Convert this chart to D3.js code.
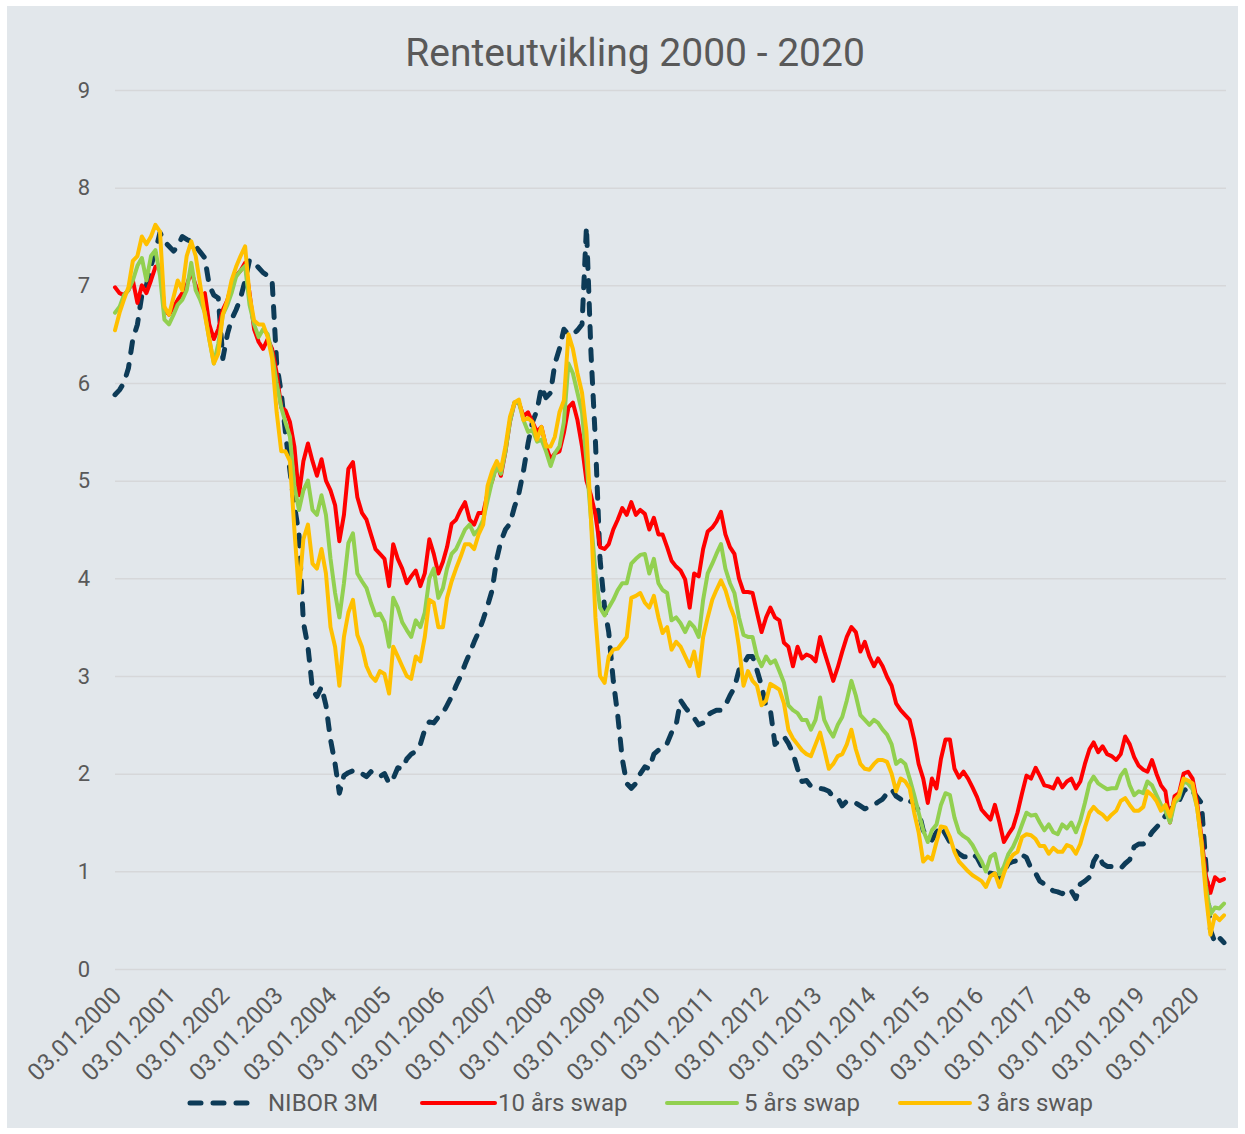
<!DOCTYPE html>
<html>
<head>
<meta charset="utf-8">
<script src="https://cdn.jsdelivr.net/npm/d3@7"></script>
<style>
  body { margin: 0; background: #ffffff; }
  text { font-family: Roboto, "Noto Sans", sans-serif; fill: #595959; }
</style>
</head>
<body>
<div id="chart"></div>
<script>
const chartTitle = "Renteutvikling 2000 - 2020";
const seriesNames = ["NIBOR 3M", "10 års swap", "5 års swap", "3 års swap"];
const firstMonth = "2000-01-01"; // one value per month from here
const tickLabels = ["03.01.2000", "03.01.2001", "03.01.2002", "03.01.2003", "03.01.2004",
  "03.01.2005", "03.01.2006", "03.01.2007", "03.01.2008", "03.01.2009", "03.01.2010",
  "03.01.2011", "03.01.2012", "03.01.2013", "03.01.2014", "03.01.2015", "03.01.2016",
  "03.01.2017", "03.01.2018", "03.01.2019", "03.01.2020"];
const yTicks = [0, 1, 2, 3, 4, 5, 6, 7, 8, 9];

// monthly values, one row per year
const nibor3m = [
  5.88, 5.93, 6.0, 6.15, 6.45, 6.6, 6.9, 7.0, 7.2, 7.35, 7.54, 7.45,
  7.4, 7.35, 7.4, 7.5, 7.47, 7.45, 7.4, 7.34, 7.28, 7.0, 6.9, 6.87,
  6.25, 6.5, 6.65, 6.75, 6.87, 7.05, 7.26, 7.23, 7.18, 7.13, 7.1, 7.05,
  6.2, 5.9, 5.5, 5.1, 4.75, 4.45, 3.55, 3.3, 2.86, 2.79, 2.89, 2.7,
  2.35, 2.1, 1.8, 1.98, 2.01, 2.03, 2.03, 2.0, 1.97, 2.02, 1.98, 1.97,
  2.0, 1.9, 1.95, 2.06, 2.05, 2.15, 2.2, 2.23, 2.3, 2.45, 2.53, 2.52,
  2.58, 2.62, 2.7, 2.79, 2.9, 3.0, 3.12, 3.23, 3.35, 3.45, 3.58, 3.72,
  3.88, 4.2, 4.38, 4.5, 4.56, 4.73, 4.87, 5.1, 5.38, 5.6, 5.72, 5.96,
  5.85, 5.9, 6.2, 6.35, 6.55, 6.5, 6.5, 6.54, 6.6, 7.6, 6.3, 5.4,
  4.2, 3.7, 3.45, 2.95, 2.6, 2.15, 1.9, 1.85, 1.9, 2.0, 2.07, 2.05,
  2.2, 2.24, 2.26, 2.31, 2.42, 2.5, 2.75, 2.68, 2.62, 2.57, 2.5, 2.52,
  2.6, 2.63, 2.65, 2.65, 2.7, 2.8, 2.88, 3.06, 3.12, 3.2, 3.2, 3.06,
  2.9, 2.68, 2.65, 2.3, 2.34, 2.38, 2.31, 2.21, 2.05, 1.92, 1.93, 1.87,
  1.86, 1.85, 1.84, 1.82, 1.76, 1.75, 1.67, 1.72, 1.71, 1.7, 1.67, 1.64,
  1.66, 1.68, 1.71, 1.74, 1.8, 1.84, 1.77, 1.74, 1.76, 1.72, 1.7, 1.62,
  1.42, 1.34, 1.32, 1.4, 1.46, 1.38, 1.3, 1.22, 1.18, 1.15, 1.15, 1.18,
  1.14, 1.05, 1.01, 0.98, 0.97, 0.94, 1.0, 1.08, 1.1, 1.11, 1.17, 1.14,
  1.03, 0.98, 0.9, 0.87, 0.83, 0.8, 0.79, 0.77, 0.82, 0.8, 0.72, 0.87,
  0.9, 0.94, 1.1, 1.18, 1.08, 1.05, 1.05, 1.04, 1.03, 1.08, 1.12, 1.25,
  1.28, 1.28, 1.32, 1.4, 1.45, 1.5, 1.57, 1.63, 1.68, 1.72, 1.82, 1.86,
  1.82, 1.76, 1.7, 1.05, 0.4, 0.27, 0.32, 0.27
];

const swap10 = [
  6.98, 6.92, 6.9, 6.95, 7.05, 6.82, 7.0, 6.92, 7.05, 7.19, 7.2, 6.75,
  6.7, 6.78, 6.85, 6.92, 7.0, 7.14, 7.0, 6.88, 6.92, 6.6, 6.45, 6.55,
  6.75, 6.85, 7.0, 7.1, 7.15, 7.23, 6.92, 6.55, 6.42, 6.35, 6.45, 6.35,
  6.1, 5.75, 5.72, 5.6, 5.35, 4.85, 5.2, 5.38, 5.2, 5.05, 5.22, 5.0,
  4.9, 4.75, 4.38, 4.65, 5.12, 5.19, 4.83, 4.67, 4.6, 4.45, 4.3, 4.25,
  4.2, 3.92, 4.35, 4.2, 4.1, 3.95, 4.02, 4.08, 3.92, 4.05, 4.4, 4.25,
  4.05, 4.17, 4.32, 4.56, 4.6, 4.7, 4.78, 4.6, 4.55, 4.67, 4.67, 4.87,
  5.0, 5.18, 5.05, 5.3, 5.6, 5.8, 5.8, 5.66, 5.7, 5.6, 5.5, 5.55,
  5.35, 5.22, 5.28, 5.3, 5.49, 5.75, 5.8, 5.62, 5.35, 5.0, 4.85, 4.65,
  4.32, 4.3, 4.35, 4.5, 4.6, 4.72, 4.65, 4.78, 4.65, 4.7, 4.66, 4.5,
  4.62, 4.45, 4.45, 4.32, 4.18, 4.12, 4.08, 3.99, 3.7, 4.05, 4.02, 4.3,
  4.48, 4.52, 4.58, 4.68, 4.45, 4.32, 4.25, 4.0, 3.86, 3.86, 3.85, 3.65,
  3.45, 3.6, 3.7, 3.6, 3.57, 3.34, 3.3, 3.1, 3.3, 3.18, 3.22, 3.2,
  3.15, 3.4, 3.25, 3.1, 2.95, 3.09, 3.25, 3.4, 3.5, 3.45, 3.25, 3.35,
  3.2, 3.1, 3.18, 3.1, 2.99, 2.9, 2.72, 2.65, 2.6, 2.55, 2.35, 2.1,
  1.95, 1.7, 1.95, 1.85, 2.15, 2.35, 2.35, 2.05, 1.96, 2.02, 1.95, 1.86,
  1.76, 1.63, 1.58, 1.53, 1.68, 1.5, 1.3, 1.38, 1.45, 1.6, 1.8, 1.98,
  1.95, 2.06, 1.98, 1.88, 1.87, 1.85, 1.95, 1.86, 1.92, 1.95, 1.85, 1.92,
  2.1, 2.25, 2.32, 2.22, 2.28, 2.2, 2.18, 2.14, 2.2, 2.38, 2.3, 2.17,
  2.08, 2.04, 2.02, 2.14, 2.0, 1.88, 1.82, 1.5, 1.77, 1.8, 2.0, 2.02,
  1.95, 1.7, 1.35, 0.95, 0.78, 0.94, 0.9, 0.92
];

const swap5 = [
  6.72, 6.78, 6.9, 6.95, 7.05, 7.2, 7.28, 7.05, 7.3, 7.36, 7.1, 6.65,
  6.6, 6.7, 6.8, 6.85, 6.95, 7.23, 6.95, 6.85, 6.72, 6.45, 6.2, 6.4,
  6.7, 6.8, 6.92, 7.09, 7.15, 7.2, 6.8, 6.6, 6.47, 6.55, 6.5, 6.3,
  6.0, 5.75, 5.6, 5.45, 4.95, 4.7, 4.9, 5.0, 4.7, 4.65, 4.85, 4.65,
  4.2, 3.85, 3.6, 3.95, 4.36, 4.46, 4.05, 3.97, 3.9, 3.75, 3.62, 3.64,
  3.55, 3.3, 3.8, 3.7, 3.55, 3.47, 3.4, 3.57, 3.5, 3.65, 4.0, 4.1,
  3.8, 3.9, 4.1, 4.25, 4.3, 4.4, 4.5, 4.55, 4.45, 4.5, 4.6, 4.8,
  5.0, 5.15, 5.07, 5.3, 5.6, 5.8, 5.8, 5.62, 5.5, 5.52, 5.4, 5.42,
  5.3, 5.15, 5.28, 5.35, 5.6, 6.2, 6.1, 5.9, 5.7, 5.2, 4.6, 4.05,
  3.7, 3.62, 3.7, 3.78, 3.88, 3.95, 3.95, 4.15, 4.2, 4.24, 4.25, 4.05,
  4.2, 3.95, 3.88, 3.85, 3.57, 3.6, 3.54, 3.45, 3.55, 3.5, 3.4, 3.78,
  4.05, 4.15, 4.25, 4.35, 4.1, 3.95, 3.85, 3.6, 3.42, 3.4, 3.4, 3.2,
  3.1, 3.2, 3.13, 3.16, 3.05, 2.93, 2.7, 2.65, 2.62, 2.55, 2.55, 2.45,
  2.55, 2.78, 2.55, 2.45, 2.38, 2.5, 2.58, 2.75, 2.95, 2.8, 2.6, 2.55,
  2.5, 2.55, 2.52, 2.45, 2.4, 2.3, 2.1, 2.14, 2.1, 1.95, 1.78, 1.6,
  1.42, 1.3, 1.42, 1.48, 1.68, 1.8, 1.78, 1.55, 1.4, 1.36, 1.33, 1.27,
  1.18, 1.1, 1.0, 1.15, 1.18, 0.97, 1.05, 1.18, 1.25, 1.35, 1.48, 1.6,
  1.57, 1.58, 1.5, 1.42, 1.48, 1.4, 1.38, 1.48, 1.44, 1.5, 1.4, 1.52,
  1.7, 1.9, 1.97, 1.9, 1.87, 1.84, 1.85, 1.85, 1.98, 2.04, 1.88, 1.78,
  1.82, 1.8, 1.92, 1.88, 1.78, 1.68, 1.62, 1.5, 1.7, 1.75, 1.92, 1.9,
  1.84, 1.65, 1.3, 0.85, 0.56, 0.63, 0.62, 0.67
];

const swap3 = [
  6.54, 6.72, 6.85, 6.98, 7.25, 7.3, 7.5, 7.42, 7.5, 7.62, 7.55, 6.78,
  6.7, 6.88, 7.05, 6.95, 7.3, 7.45, 7.3, 7.0, 6.7, 6.45, 6.2, 6.3,
  6.7, 6.85, 7.05, 7.19, 7.3, 7.4, 6.9, 6.64, 6.6, 6.6, 6.47, 6.25,
  5.7, 5.3, 5.3, 5.2, 4.5, 3.85, 4.4, 4.55, 4.15, 4.1, 4.3, 4.05,
  3.5, 3.3, 2.9, 3.4, 3.65, 3.78, 3.42, 3.3, 3.1, 3.0, 2.95, 3.05,
  3.02, 2.82, 3.3, 3.2, 3.1, 3.0, 2.97, 3.2, 3.15, 3.4, 3.78, 3.75,
  3.5, 3.5, 3.8, 3.97, 4.1, 4.22, 4.35, 4.35, 4.3, 4.45, 4.55, 4.95,
  5.1, 5.2, 5.11, 5.35, 5.65, 5.8, 5.83, 5.62, 5.64, 5.6, 5.42, 5.55,
  5.35, 5.35, 5.45, 5.7, 5.82, 6.5, 6.35, 6.1, 5.9, 5.5, 4.6, 3.6,
  3.0, 2.93, 3.2, 3.27, 3.28, 3.34, 3.4, 3.8, 3.82, 3.85, 3.75, 3.7,
  3.82, 3.6, 3.44, 3.5, 3.27, 3.35, 3.3, 3.2, 3.1, 3.25, 3.0, 3.4,
  3.6, 3.78, 3.88, 3.98, 3.88, 3.72, 3.6, 3.3, 2.9, 3.05, 2.95, 2.9,
  2.7, 2.75, 2.92, 2.89, 2.86, 2.72, 2.45, 2.36, 2.3, 2.24, 2.2, 2.18,
  2.3, 2.42, 2.25, 2.05, 2.1, 2.18, 2.2, 2.3, 2.45, 2.25, 2.1, 2.05,
  2.04, 2.1, 2.14, 2.14, 2.12, 2.0, 1.82, 1.95, 1.92, 1.85, 1.6, 1.4,
  1.1, 1.15, 1.12, 1.3, 1.46, 1.45, 1.35, 1.2, 1.1, 1.05, 1.0, 0.96,
  0.93, 0.9, 0.84, 0.95, 0.98, 0.84, 0.98, 1.1, 1.17, 1.2, 1.35, 1.38,
  1.37, 1.33, 1.26, 1.26, 1.18, 1.24, 1.2, 1.2, 1.27, 1.25, 1.18, 1.28,
  1.45, 1.6, 1.66, 1.61, 1.58, 1.53, 1.58, 1.62, 1.72, 1.75, 1.68, 1.62,
  1.62, 1.66, 1.82, 1.78, 1.72, 1.62, 1.68, 1.56, 1.73, 1.78, 1.95, 1.93,
  1.9, 1.65, 1.3, 0.75, 0.35, 0.55, 0.5, 0.55
];

const W = 1245, H = 1134;
const margin = { top: 90, right: 19, bottom: 165, left: 115 };
const width = W - margin.left - margin.right;
const height = H - margin.top - margin.bottom;

const svg = d3.select('#chart').append('svg')
    .attr('width', W)
    .attr('height', H);

// chart area background
svg.append('rect')
    .attr('x', 7).attr('y', 6)
    .attr('width', W - 14).attr('height', H - 12)
    .attr('fill', '#e2e7eb');

svg.append('text')
    .attr('x', 635)
    .attr('y', 66)
    .attr('text-anchor', 'middle')
    .attr('font-size', '39px')
    .text(chartTitle);

const g = svg.append('g')
    .attr('transform', `translate(${margin.left},${margin.top})`);

const start = d3.timeParse('%Y-%m-%d')(firstMonth);
const monthDate = i => d3.timeMonth.offset(start, i);
const lastDate = monthDate(nibor3m.length - 1);

const x = d3.scaleTime()
    .domain([start, lastDate])
    .range([0, width - 2]);

const y = d3.scaleLinear()
    .domain([0, 9])
    .range([height, 0]);

// horizontal grid
g.append('g')
    .attr('class', 'grid')
    .call(d3.axisLeft(y).tickValues(yTicks).tickSize(-width).tickFormat(''))
    .call(s => s.select('.domain').remove())
    .call(s => s.selectAll('line').attr('stroke', '#d6d7d9').attr('stroke-width', 1.5));

// y labels
g.append('g')
    .call(d3.axisLeft(y).tickValues(yTicks).tickSize(0).tickPadding(25).tickFormat(d3.format('d')))
    .call(s => s.select('.domain').remove())
    .call(s => s.selectAll('text')
        .attr('font-size', '22px')
        .attr('fill', '#595959')
        .attr('font-family', 'Roboto, "Noto Sans", sans-serif'));

// x labels
const parseTick = d3.timeParse('%d.%m.%Y');
const xAxis = d3.axisBottom(x)
    .tickValues(tickLabels.map(parseTick))
    .tickSize(0)
    .tickFormat(d3.timeFormat('%d.%m.%Y'));

g.append('g')
    .attr('transform', `translate(0,${height})`)
    .call(xAxis)
    .call(s => s.select('.domain').remove())
    .call(s => s.selectAll('text')
        .attr('font-size', '24px')
        .attr('fill', '#595959')
        .attr('font-family', 'Roboto, "Noto Sans", sans-serif')
        .attr('text-anchor', 'end')
        .attr('dy', '0.35em')
        .attr('transform', 'translate(-1,20) rotate(-45)'));

const series = [
  { name: seriesNames[0], values: nibor3m, color: '#0d3b57', width: 5, dash: '11 12' },
  { name: seriesNames[1], values: swap10, color: '#ff0000', width: 4, dash: null },
  { name: seriesNames[2], values: swap5, color: '#92d050', width: 4, dash: null },
  { name: seriesNames[3], values: swap3, color: '#ffc000', width: 4, dash: null }
];

const line = d3.line()
    .x((d, i) => x(monthDate(i)))
    .y(d => y(d));

series.forEach(s => {
  g.append('path')
      .datum(s.values)
      .attr('fill', 'none')
      .attr('stroke', s.color)
      .attr('stroke-width', s.width)
      .attr('stroke-linejoin', 'round')
      .attr('stroke-linecap', 'round')
      .attr('stroke-dasharray', s.dash)
      .attr('d', line);
});

// legend
const legendY = 1103;
const legendPos = [
  { x1: 190, x2: 250, tx: 268 },
  { x1: 422, x2: 495, tx: 498 },
  { x1: 667, x2: 737, tx: 744 },
  { x1: 900, x2: 970, tx: 977 }
];
const legend = svg.append('g').attr('class', 'legend');
series.forEach((s, i) => {
  const p = legendPos[i];
  legend.append('line')
      .attr('x1', p.x1).attr('x2', p.x2)
      .attr('y1', legendY).attr('y2', legendY)
      .attr('stroke', s.color)
      .attr('stroke-width', s.width)
      .attr('stroke-linecap', 'round')
      .attr('stroke-dasharray', s.dash);
  legend.append('text')
      .attr('x', p.tx)
      .attr('y', legendY)
      .attr('dy', '0.35em')
      .attr('font-size', '24px')
      .text(s.name);
});
</script>
</body>
</html>
